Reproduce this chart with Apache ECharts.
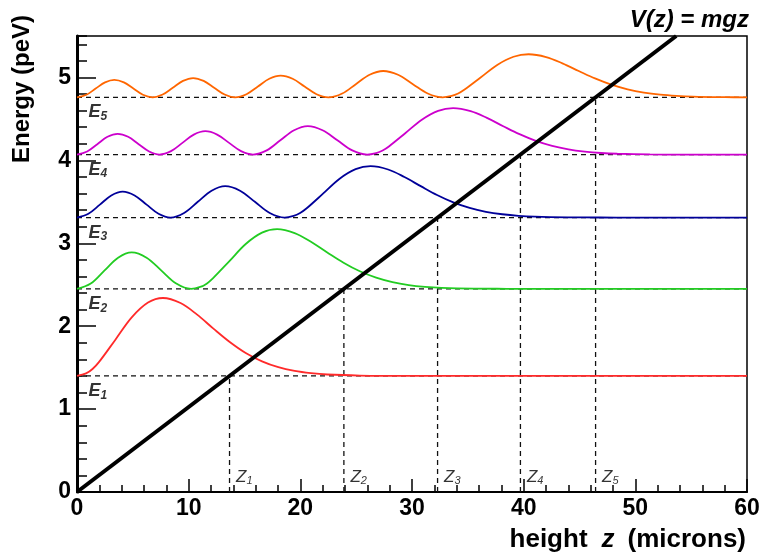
<!DOCTYPE html>
<html>
<head>
<meta charset="utf-8">
<script src="https://cdn.jsdelivr.net/npm/echarts@6/dist/echarts.min.js"></script>
<style>
  html, body { margin: 0; padding: 0; background: #fff; }
  #chart { width: 763px; height: 556px; }
</style>
</head>
<body>
<div id="chart"></div>
<script>
// Energy levels E_n (peV) and classical turning heights z_n (microns)
const levelIndex = ['1', '2', '3', '4', '5'];
const levels = [1.40, 2.45, 3.31, 4.07, 4.76];
const turningPoints = [13.66, 23.90, 32.29, 39.71, 46.44];

// Gravitational potential V(z) = mgz, from the mirror to the top of the frame
const potential = [[0, 0], [53.66, 5.5]];

// Probability densities |psi_n(z)|^2, drawn offset by their level E_n: [z, E]
const state1 = [[0,1.400],[0.81,1.430],[1.39,1.483],[1.98,1.569],[3.44,1.837],[4.90,2.106],[6.36,2.285],[7.70,2.340],
  [9.27,2.279],[10.73,2.142],[12.19,1.974],[13.65,1.813],[15.11,1.677],[16.57,1.576],[18.03,1.505],[19.49,1.460],
  [20.95,1.433],[22.41,1.417],[25.33,1.404],[28.25,1.401],[31.2,1.400],[60,1.400]];

const state2 = [[0,2.450],[1.23,2.514],[2.45,2.670],[3.68,2.826],[4.90,2.890],[6.23,2.826],[7.56,2.670],[8.89,2.514],
  [10.22,2.450],[11.03,2.473],[11.61,2.513],[12.19,2.580],[13.65,2.785],[15.11,2.991],[16.57,3.128],[17.92,3.170],
  [19.49,3.123],[20.95,3.018],[22.41,2.890],[23.87,2.766],[25.33,2.662],[26.79,2.585],[28.25,2.531],[29.71,2.496],
  [31.17,2.475],[32.63,2.463],[35.55,2.453],[38.47,2.451],[41.4,2.450],[60,2.450]];

const state3 = [[0,3.310],[1.02,3.356],[2.05,3.466],[3.07,3.577],[4.09,3.623],[5.16,3.577],[6.23,3.466],[7.30,3.356],
  [8.37,3.310],[9.59,3.365],[10.82,3.500],[12.05,3.634],[13.27,3.689],[14.60,3.634],[15.93,3.500],[17.26,3.365],
  [18.59,3.310],[19.40,3.330],[19.98,3.365],[20.57,3.422],[22.03,3.598],[23.49,3.776],[24.95,3.894],[26.29,3.930],
  [27.86,3.890],[29.32,3.799],[30.78,3.689],[32.24,3.582],[33.70,3.493],[35.16,3.426],[36.62,3.380],[38.08,3.350],
  [39.54,3.331],[41.00,3.321],[43.92,3.313],[46.84,3.311],[49.8,3.310],[60,3.310]];

const state4 = [[0,4.070],[0.91,4.107],[1.82,4.195],[2.73,4.284],[3.64,4.320],[4.58,4.284],[5.52,4.195],[6.46,4.107],
  [7.39,4.070],[8.42,4.111],[9.44,4.211],[10.46,4.311],[11.49,4.352],[12.55,4.311],[13.62,4.211],[14.69,4.111],
  [15.76,4.070],[16.99,4.120],[18.21,4.242],[19.44,4.363],[20.67,4.413],[21.99,4.363],[23.32,4.242],[24.65,4.120],
  [25.98,4.070],[26.79,4.088],[27.37,4.119],[27.96,4.171],[29.42,4.330],[30.88,4.491],[32.34,4.598],[33.68,4.630],
  [35.25,4.594],[36.71,4.512],[38.17,4.412],[39.63,4.316],[41.09,4.235],[42.55,4.175],[44.01,4.133],[45.47,4.106],
  [46.93,4.089],[48.39,4.080],[51.31,4.072],[54.23,4.070],[60,4.070]];

const state5 = [[0,4.760],[0.84,4.791],[1.67,4.866],[2.51,4.941],[3.34,4.972],[4.20,4.941],[5.05,4.866],[5.90,4.791],
  [6.76,4.760],[7.67,4.794],[8.58,4.876],[9.49,4.958],[10.40,4.992],[11.34,4.958],[12.28,4.876],[13.22,4.794],
  [14.15,4.760],[15.18,4.798],[16.20,4.891],[17.22,4.984],[18.24,5.022],[19.31,4.984],[20.38,4.891],[21.45,4.798],
  [22.52,4.760],[23.75,4.806],[24.97,4.919],[26.20,5.032],[27.42,5.078],[28.75,5.032],[30.08,4.919],[31.41,4.806],
  [32.74,4.760],[33.55,4.777],[34.13,4.806],[34.71,4.854],[36.17,5.002],[37.63,5.151],[39.09,5.250],[40.44,5.280],
  [42.01,5.246],[43.47,5.170],[44.93,5.078],[46.39,4.988],[47.85,4.913],[49.31,4.857],[50.77,4.818],[52.23,4.793],
  [53.69,4.778],[55.15,4.769],[58.07,4.762],[60,4.760]];

const states = [state1, state2, state3, state4, state5];
const stateColors = ['#ff2a2a', '#22cc22', '#000099', '#cc00cc', '#ff6600'];

const X_MAX = 60, Y_MAX = 5.5;
const FONT = '"Liberation Sans", Arial, Helvetica, sans-serif';

const chart = echarts.init(document.getElementById('chart'), null, { renderer: 'canvas' });

const series = [];

// dashed guides: each level across the plot, and each turning point up to its level
levels.forEach((e, i) => {
  const dash = { color: '#111', width: 1.3, type: [5, 4] };
  series.push({ type: 'line', data: [[0, e], [X_MAX, e]], symbol: 'none', lineStyle: dash, silent: true, z: 2 });
  series.push({ type: 'line', data: [[turningPoints[i], 0], [turningPoints[i], e]], symbol: 'none', lineStyle: dash, silent: true, z: 2 });
});

// wave-function curves
states.forEach((s, i) => {
  series.push({
    type: 'line', data: s, symbol: 'none', smooth: 0.35, z: 3,
    lineStyle: { color: stateColors[i], width: 1.8 }
  });
});

// V(z) = mgz
series.push({ type: 'line', data: potential, symbol: 'none', z: 4, lineStyle: { color: '#000', width: 4 } });

// E_n labels under each level line
series.push({
  type: 'scatter', symbolSize: 1, itemStyle: { color: 'rgba(0,0,0,0)' }, z: 5,
  data: levels.map((e, i) => ({ value: [0, e], name: levelIndex[i] })),
  label: {
    show: true, position: 'right', distance: 0, offset: [11, 15],
    formatter: p => '{e|E}{s|' + p.name + '}',
    rich: {
      e: { fontFamily: FONT, fontSize: 18, fontWeight: 'bold', fontStyle: 'italic', color: '#000' },
      s: { fontFamily: FONT, fontSize: 12, fontWeight: 'bold', fontStyle: 'italic', color: '#000', padding: [9, 0, 0, 0] }
    }
  }
});

// z_n labels beside each turning-point line
series.push({
  type: 'scatter', symbolSize: 1, itemStyle: { color: 'rgba(0,0,0,0)' }, z: 5,
  data: turningPoints.map((z, i) => ({ value: [z, 0], name: levelIndex[i] })),
  label: {
    show: true, position: 'right', distance: 0, offset: [6, -15],
    formatter: p => '{z|Z}{s|' + p.name + '}',
    rich: {
      z: { fontFamily: FONT, fontSize: 17, fontStyle: 'italic', color: '#000' },
      s: { fontFamily: FONT, fontSize: 11, fontStyle: 'italic', color: '#000', padding: [8, 0, 0, 0] }
    }
  }
});

const gridBox = { left: 77, top: 36, width: 670, height: 456 };

chart.setOption({
  animation: false,
  backgroundColor: '#fff',
  grid: Object.assign({ show: true, borderColor: '#000', borderWidth: 1.5, backgroundColor: 'transparent' }, gridBox),
  xAxis: {
    type: 'value', min: 0, max: X_MAX, interval: 10,
    axisLine: { show: true, onZero: false, lineStyle: { color: '#000', width: 2 } },
    axisTick: { show: true, inside: true, length: 13, lineStyle: { color: '#000', width: 1.5 } },
    minorTick: { show: true, splitNumber: 5, length: 7, lineStyle: { color: '#000', width: 1.5 } },
    axisLabel: { color: '#000', fontFamily: FONT, fontWeight: 'bold', fontSize: 23, margin: 5 },
    splitLine: { show: false }, minorSplitLine: { show: false }
  },
  yAxis: [{
    type: 'value', min: 0, max: Y_MAX, interval: 1,
    axisLine: { show: true, onZero: false, lineStyle: { color: '#000', width: 3 } },
    axisTick: { show: true, inside: true, length: 19, lineStyle: { color: '#000', width: 1.5 } },
    axisLabel: { color: '#000', fontFamily: FONT, fontWeight: 'bold', fontSize: 23, margin: 6, showMaxLabel: false },
    splitLine: { show: false }
  }, {
    // minor ticks every 0.2 peV
    type: 'value', min: 0, max: Y_MAX, interval: 0.2, position: 'left', offset: 0,
    axisLine: { show: false },
    axisTick: { show: true, inside: true, length: 10, lineStyle: { color: '#000', width: 1.5 } },
    axisLabel: { show: false }, splitLine: { show: false }
  }],
  graphic: [
    {
      type: 'text', x: 749, y: 20, z: 10,
      style: { text: 'V(z) = mgz', font: 'italic bold 24px ' + FONT, fill: '#000',
        align: 'right', verticalAlign: 'middle', textAlign: 'right', textVerticalAlign: 'middle' }
    },
    {
      type: 'text', x: 746, y: 540, z: 10,
      style: {
        text: 'height{i|z}(microns)', font: 'bold 26px ' + FONT, fill: '#000',
        align: 'right', verticalAlign: 'middle', textAlign: 'right', textVerticalAlign: 'middle',
        rich: { i: { fontFamily: FONT, fontSize: 26, fontWeight: 'bold', fontStyle: 'italic', fill: '#000', padding: [0, 13, 0, 14] } }
      }
    },
    {
      type: 'text', x: 22, y: 89, rotation: Math.PI / 2, z: 10,
      style: { text: 'Energy (peV)', font: 'bold 24px ' + FONT, fill: '#000',
        align: 'center', verticalAlign: 'middle', textAlign: 'center', textVerticalAlign: 'middle' }
    }
  ],
  series: series
});
</script>
</body>
</html>
